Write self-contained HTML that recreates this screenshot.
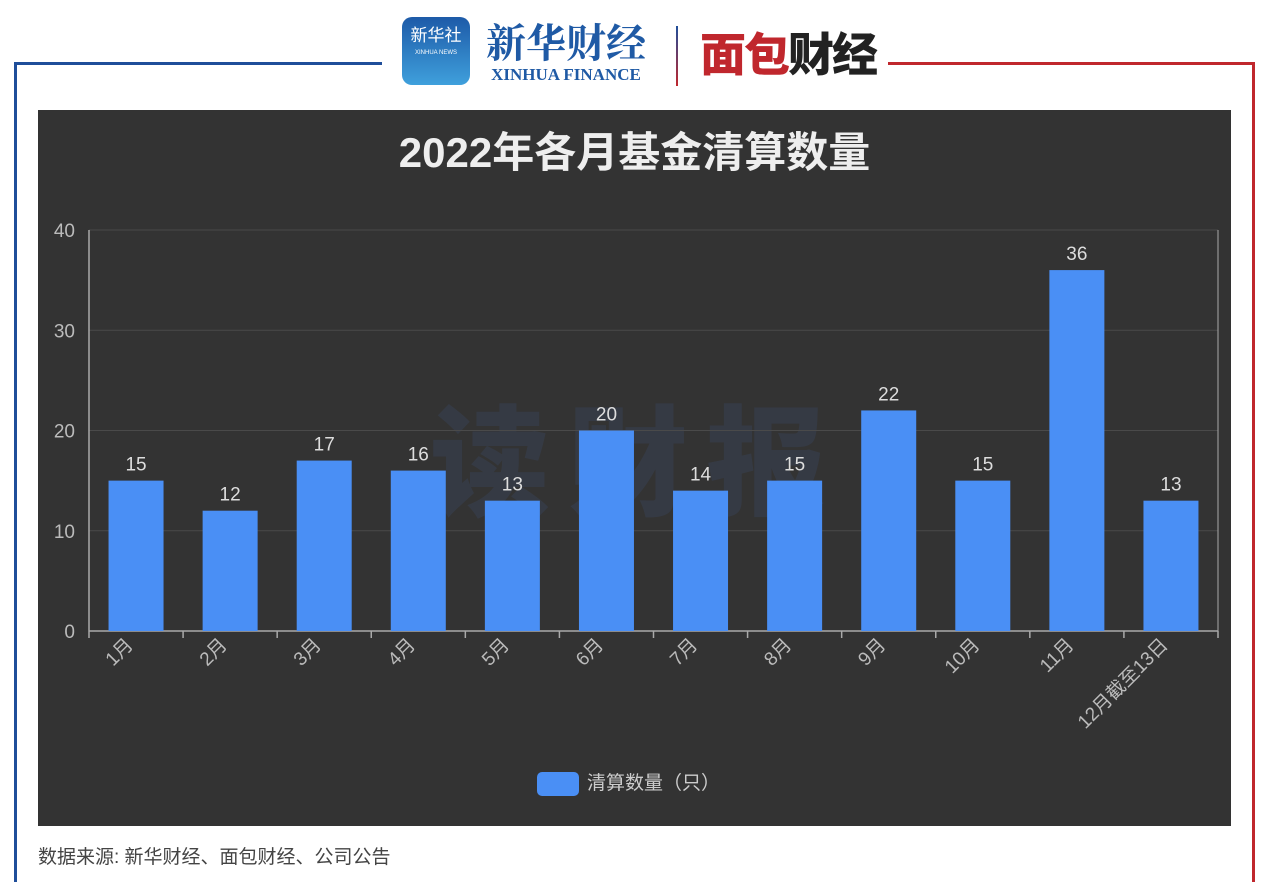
<!DOCTYPE html>
<html><head><meta charset="utf-8"><style>
body{margin:0;width:1269px;height:894px;background:#fff;position:relative;overflow:hidden;font-family:"Liberation Sans","Noto Sans CJK SC",sans-serif}
.abs{position:absolute}
</style></head><body>
<div class="abs" style="left:14px;top:62px;width:3px;height:820px;background:#1f4e9a"></div>
<div class="abs" style="left:14px;top:62px;width:368px;height:3px;background:#1f4e9a"></div>
<div class="abs" style="left:1252px;top:62px;width:3px;height:820px;background:#c0272d"></div>
<div class="abs" style="left:888px;top:62px;width:367px;height:3px;background:#c0272d"></div>
<div class="abs" style="left:402px;top:17px;width:68px;height:68px;border-radius:10px;background:linear-gradient(#1d5aa8,#3fa0dc);color:#fff;text-align:center;font-size:17px;line-height:26px;padding-top:6px;box-sizing:border-box">新华社<div style="font-size:6px;line-height:8px">XINHUA NEWS</div></div>
<div class="abs" style="left:486px;top:16px;color:#1f5aa5;text-align:center"><div style="font-family:'Noto Serif CJK SC',serif;font-size:40px;font-weight:bold;line-height:50px">新华财经</div><div style="font-family:'Liberation Serif',serif;font-size:17px;font-weight:bold;line-height:18px">XINHUA FINANCE</div></div>
<div class="abs" style="left:676px;top:26px;width:2px;height:60px;background:linear-gradient(#1f4e9a,#c0272d)"></div>
<div class="abs" style="left:700px;top:27px;color:#c0272d;font-size:46px;font-weight:900;line-height:56px;letter-spacing:-2px">面包<span style="color:#222">财经</span></div>
<div class="abs" style="left:38px;top:110px;width:1193px;height:716px;background:#333"></div>
<div class="abs" style="left:38px;top:126px;width:1193px;text-align:center;color:#eee;font-size:42px;font-weight:bold;line-height:54px">2022年各月基金清算数量</div>
<div class="abs" style="left:430px;top:395px;color:rgba(70,100,160,0.16);font-size:120px;font-weight:900;letter-spacing:18px;line-height:140px">读财报</div>
<svg class="abs" style="left:0;top:0" width="1269" height="894">
<g id="g"></g></svg>
<div class="abs" style="left:537px;top:771px;color:#ccc;font-size:19px;line-height:26px"><span style="display:inline-block;width:42px;height:24px;background:#4a8ff5;border-radius:5px;vertical-align:middle;margin-right:8px"></span>清算数量（只）</div>
<div class="abs" style="left:38px;top:842px;color:#444;font-size:19px">数据来源: 新华财经、面包财经、公司公告</div>
<script>
const categories=["1月","2月","3月","4月","5月","6月","7月","8月","9月","10月","11月","12月截至13日"];
const values=[15,12,17,16,13,20,14,15,22,15,36,13];
const yTicks=[0,10,20,30,40];
const NS="http://www.w3.org/2000/svg",g=document.getElementById('g');
const x0=89,x1=1218,yTop=230,yBot=631,yMax=40;
const cw=(x1-x0)/categories.length;
const y=v=>yBot-(v/yMax)*(yBot-yTop);
function mk(t,a,txt){const e=document.createElementNS(NS,t);for(const k in a)e.setAttribute(k,a[k]);if(txt!=null)e.textContent=txt;g.appendChild(e);return e;}
yTicks.forEach(t=>{
 if(t>0){const l=mk('line',{x1:x0,x2:x1,y1:y(t),y2:y(t),stroke:'#4a4a4a','stroke-width':1});
 
 }
 const tx=mk('text',{x:75,y:y(t)+7,'text-anchor':'end',fill:'#bbb','font-size':19},t);
 
 
});
const ax=mk('line',{x1:x0,x2:x0,y1:yTop,y2:yBot,stroke:'#aaa','stroke-width':1.5});


const ax2=mk('line',{x1:x1,x2:x1,y1:yTop,y2:yBot,stroke:'#aaa','stroke-width':1});


const xa=mk('line',{x1:x0,x2:x1,y1:yBot,y2:yBot,stroke:'#aaa','stroke-width':1.5});


for(let i=0;i<=categories.length;i++){const tk=mk('line',{x1:x0+i*cw,x2:x0+i*cw,y1:yBot,y2:yBot+7,stroke:'#aaa','stroke-width':1.5});
 
 }
values.forEach((v,i)=>{
 const cx=x0+cw*(i+0.5),bw=55;
 const r=mk('rect',{x:cx-bw/2,y:y(v),width:bw,height:yBot-y(v),fill:'#4a8ff5'});
 
 
 const lb=mk('text',{x:cx,y:y(v)-10,'text-anchor':'middle',fill:'#ddd','font-size':19},v);
 
 
 const lx=cx-2,ly=yBot+15;
 const xl=mk('text',{x:lx,y:ly,'text-anchor':'end',fill:'#bbb','font-size':19,transform:`rotate(-45 ${lx} ${ly})`},categories[i]);
 
 
});
</script>
</body></html>
